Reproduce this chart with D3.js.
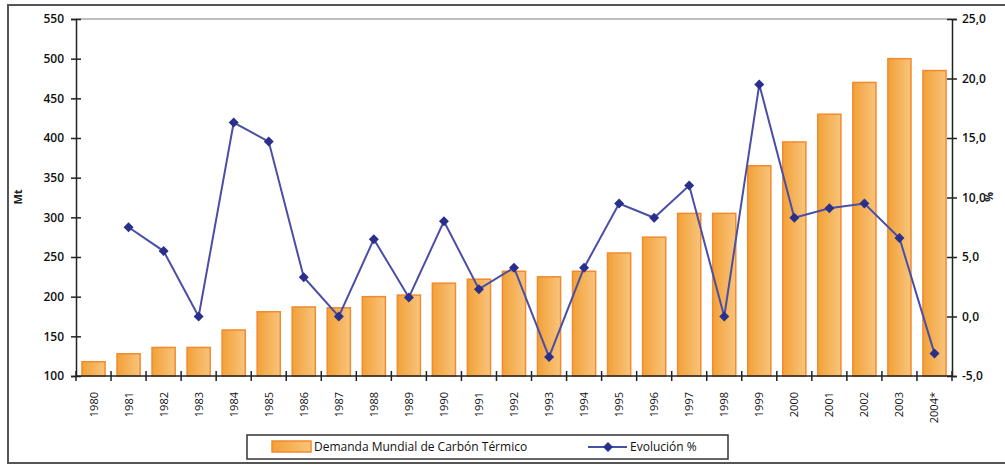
<!DOCTYPE html>
<html><head><meta charset="utf-8">
<script src="https://cdn.jsdelivr.net/npm/d3@7"></script>
<style>
html,body{margin:0;padding:0;background:#fff;}
svg{display:block;font-family:"Open Sans",sans-serif;}
</style></head>
<body>
<svg id="c" width="1005" height="466"></svg>
<script>
const years = ["1980","1981","1982","1983","1984","1985","1986","1987","1988","1989","1990","1991","1992","1993","1994","1995","1996","1997","1998","1999","2000","2001","2002","2003","2004*"];
const demand = [118,128,136,136,158,181,187,186,200,202,217,222,232,225,232,255,275,305,305,365,395,430,470,500,485];
const evolution = [null,7.5,5.5,0.0,16.3,14.7,3.3,0.0,6.5,1.6,8.0,2.3,4.1,-3.4,4.1,9.5,8.3,11.0,0.0,19.5,8.3,9.1,9.5,6.6,-3.1];
const leftTicks = [100,150,200,250,300,350,400,450,500,550];
const rightTicks = [-5,0,5,10,15,20,25];
const barLabel = "Demanda Mundial de Carbón Térmico";
const lineLabel = "Evolución %";

const svg = d3.select("#c");
const L = 76, R = 952, T = 19, B = 376;

// outer frame
svg.append("path").attr("d","M1010,5 H8 V463 H1010").attr("fill","none").attr("stroke","#555").attr("stroke-width",2);

const defs = svg.append("defs");
const g = defs.append("linearGradient").attr("id","bg").attr("x1","0").attr("x2","1").attr("y1","0").attr("y2","0");
g.append("stop").attr("offset","0").attr("stop-color","#f2a138");
g.append("stop").attr("offset","1").attr("stop-color","#f8c47c");

const x = d3.scaleBand().domain(years).range([L,R]).paddingInner(0.34).paddingOuter(0.17);
const yL = d3.scaleLinear().domain([100,550]).range([B,T]);
const yR = d3.scaleLinear().domain([-5,25]).range([B,T]);

// top grid line
svg.append("line").attr("x1",L).attr("x2",R).attr("y1",yL(550)).attr("y2",yL(550)).attr("stroke","#aaa").attr("stroke-width",1.5);

// bars
svg.selectAll("rect.bar").data(years).join("rect").attr("class","bar")
  .attr("x",d=>x(d)).attr("width",x.bandwidth())
  .attr("y",(d,i)=>yL(demand[i])).attr("height",(d,i)=>yL(100)-yL(demand[i]))
  .attr("fill","url(#bg)").attr("stroke","#f28a2e").attr("stroke-width",1.5);

// left axis
const la = svg.append("g").attr("transform",`translate(${L},0)`)
  .call(d3.axisLeft(yL).tickValues(leftTicks).tickSize(5).tickFormat(d3.format("d")));
la.selectAll(".tick line").attr("x1",-5).attr("x2",5);
// right axis
const ra = svg.append("g").attr("transform",`translate(${R},0)`)
  .call(d3.axisRight(yR).tickValues(rightTicks).tickSize(5).tickFormat(d=>d3.format(".1f")(d).replace(".",",").replace("−","-")));
ra.selectAll(".tick line").attr("x1",-5).attr("x2",5);
// bottom axis
const xa = svg.append("g").attr("transform",`translate(0,${B})`);
xa.append("line").attr("x1",L).attr("x2",R).attr("stroke","#222").attr("stroke-width",1.5);
const bounds = d3.range(years.length+1).map(i=>L+i*(R-L)/years.length);
xa.selectAll("line.t").data(bounds).join("line").attr("class","t")
  .attr("x1",d=>d).attr("x2",d=>d).attr("y1",-5).attr("y2",5).attr("stroke","#222").attr("stroke-width",1.5);
xa.selectAll("text").data(years).join("text")
  .attr("transform",d=>`translate(${x(d)+x.bandwidth()/2+4},16) rotate(-90)`)
  .attr("text-anchor","end").attr("font-size",11).attr("fill","#111").text(d=>d);

[la,ra].forEach(a=>{
  a.select(".domain").attr("stroke","#222").attr("stroke-width",1.5);
  a.selectAll(".tick line").attr("stroke","#222").attr("stroke-width",1.5);
  a.selectAll(".tick text").attr("font-size",12).attr("fill","#111").attr("font-weight",600).attr("font-family","'Open Sans',sans-serif");
});
la.selectAll(".tick text").attr("x",-12);
ra.selectAll(".tick text").attr("x",10);

// axis titles
svg.append("text").attr("transform","translate(22,197) rotate(-90)").attr("text-anchor","middle")
  .attr("font-size",11).attr("font-weight","bold").attr("fill","#222").text("Mt");
svg.append("text").attr("transform","translate(985,197) rotate(90)").attr("text-anchor","middle")
  .attr("font-size",11).attr("font-weight","bold").attr("fill","#222").text("%");

// line
const pts = years.map((d,i)=>({d,v:evolution[i]})).filter(p=>p.v!==null);
const line = d3.line().x(p=>x(p.d)+x.bandwidth()/2).y(p=>yR(p.v));
svg.append("path").datum(pts).attr("d",line).attr("fill","none").attr("stroke","#4a4fa6").attr("stroke-width",2);
const diamond = d3.symbol().type(d3.symbolSquare).size(50);
svg.selectAll("path.m").data(pts).join("path").attr("class","m")
  .attr("d",diamond).attr("transform",p=>`translate(${x(p.d)+x.bandwidth()/2},${yR(p.v)}) rotate(45)`)
  .attr("fill","#2b2f8c");

// legend
const lg = svg.append("g");
lg.append("rect").attr("x",247).attr("y",435).attr("width",481).attr("height",24).attr("fill","#fff").attr("stroke","#333").attr("stroke-width",1.5);
lg.append("rect").attr("x",272).attr("y",441).attr("width",39).attr("height",11).attr("fill","url(#bg)").attr("stroke","#f28a2e").attr("stroke-width",1.5);
lg.append("text").attr("x",314).attr("y",451).attr("font-size",12).attr("fill","#111").text(barLabel);
lg.append("line").attr("x1",588).attr("x2",627).attr("y1",447).attr("y2",447).attr("stroke","#4a4fa6").attr("stroke-width",2);
lg.append("path").attr("d",diamond).attr("transform","translate(608,447) rotate(45)").attr("fill","#2b2f8c");
lg.append("text").attr("x",630).attr("y",451).attr("font-size",12).attr("fill","#111").text(lineLabel);
</script>
</body></html>
